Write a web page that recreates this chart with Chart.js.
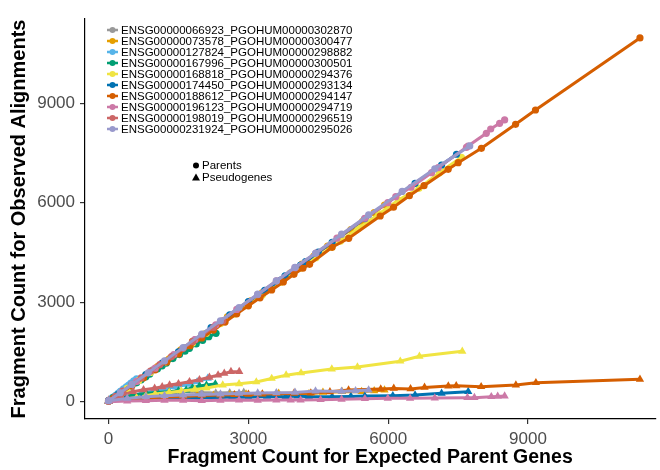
<!DOCTYPE html>
<html lang="en">

<head>
    <meta charset="utf-8">
    <script src="https://cdn.jsdelivr.net/npm/chart.js@4.4.0/dist/chart.umd.min.js"></script>
    <style>
        body {
            margin: 0;
            background: #fff;
        }
    </style>
</head>

<body>
    <canvas id="fragChart" width="660" height="470"></canvas>

    <script>
        // gene pairs shown in the legend
        const genePairs = [
            'ENSG00000066923_PGOHUM00000302870',
            'ENSG00000073578_PGOHUM00000300477',
            'ENSG00000127824_PGOHUM00000298882',
            'ENSG00000167996_PGOHUM00000300501',
            'ENSG00000168818_PGOHUM00000294376',
            'ENSG00000174450_PGOHUM00000293134',
            'ENSG00000188612_PGOHUM00000294147',
            'ENSG00000196123_PGOHUM00000294719',
            'ENSG00000198019_PGOHUM00000296519',
            'ENSG00000231924_PGOHUM00000295026'
        ];
        const pairColors = ['#999999', '#E69F00', '#56B4E9', '#009E73', '#F0E442',
            '#0072B2', '#D55E00', '#CC79A7', '#CC6666', '#9999CC'];

        const xTicks = [0, 3000, 6000, 9000];
        const yTicks = [0, 3000, 6000, 9000];

        // [expected, observed] for the parent genes
        const parents066923 = [[0, 40], [150, 170], [250, 290], [400, 420], [520, 540], [650, 660], [800, 790], [950, 960], [1100, 1080], [1250, 1240], [1400, 1380], [1520, 1510], [1650, 1630]];
        const parents073578 = [[0, 30], [200, 220], [350, 370], [600, 610], [800, 810], [1050, 1060], [1300, 1290], [1550, 1560], [1800, 1820], [2050, 2040], [2300, 2280], [2550, 2560], [2800, 2800], [3050, 3040], [3300, 3290], [3600, 3590], [3900, 3880], [4150, 4150], [4405, 4392], [4700, 4690], [4975, 4965], [5200, 5190], [5452, 5439], [5700, 5700], [5921, 5930]];
        const parents127824 = [[0, 20], [40, 60], [80, 120], [120, 150], [160, 200], [210, 260], [260, 320], [320, 390], [380, 450], [430, 500], [480, 560], [540, 630], [600, 690]];
        const parents167996 = [[0, 30], [98, 120], [200, 210], [300, 300], [400, 390], [491, 470], [600, 570], [700, 660], [800, 750], [882, 830], [1050, 990], [1150, 1080], [1238, 1158], [1380, 1300], [1523, 1420], [1640, 1520], [1736, 1610], [1880, 1740], [2020, 1850], [2150, 1960], [2306, 2062]];
        const parents168818 = [[0, 20], [200, 200], [400, 400], [650, 640], [900, 880], [1200, 1180], [1500, 1460], [1800, 1760], [2100, 2060], [2400, 2350], [2700, 2640], [3000, 2930], [3300, 3220], [3700, 3600], [4121, 4022], [4450, 4340], [4796, 4655], [4975, 4840], [5366, 5228], [5800, 5660], [6220, 6081], [6662, 6433], [7100, 6900], [7572, 7368]];
        const parents174450 = [[0, 30], [200, 210], [500, 510], [800, 820], [1150, 1160], [1500, 1500], [1850, 1860], [2200, 2230], [2600, 2620], [3000, 3020], [3350, 3360], [3694, 3669], [3786, 3790], [4121, 4121], [4228, 4221], [4500, 4510], [4797, 4805], [5500, 5520], [6577, 6584], [7146, 7136], [7466, 7459]];
        const parents188612 = [[0, 10], [100, 100], [300, 290], [500, 480], [750, 720], [1000, 960], [1250, 1200], [1500, 1440], [1750, 1690], [2000, 1920], [2250, 2160], [2500, 2400], [2750, 2650], [3000, 2890], [3250, 3130], [3500, 3370], [3750, 3610], [3978, 3841], [4170, 4022], [4313, 4142], [4796, 4655], [5153, 4926], [5829, 5598], [6114, 5861], [6455, 6211], [6769, 6512], [7288, 7006], [7502, 7205], [8000, 7639], [8734, 8363], [9161, 8794], [11403, 10965]];
        const parents196123 = [[0, 20], [300, 310], [600, 610], [1000, 1010], [1400, 1420], [1850, 1870], [2300, 2320], [2750, 2780], [3200, 3230], [3600, 3640], [4000, 4040], [4450, 4480], [4900, 4930], [5500, 5530], [5992, 6000], [6163, 6181], [6492, 6464], [6932, 6904], [7075, 7055], [7680, 7669], [7715, 7709], [8106, 8091], [8200, 8221], [8392, 8393], [8499, 8493]];
        const parents198019 = [[0, 30], [150, 160], [300, 320], [500, 520], [700, 720], [900, 920], [1100, 1120], [1350, 1360], [1600, 1610], [1800, 1810], [2000, 2010], [2250, 2240], [2450, 2440]];
        const parents231924 = [[0, 30], [250, 270], [500, 520], [850, 870], [1200, 1230], [1600, 1630], [2000, 2040], [2400, 2440], [2800, 2840], [3200, 3240], [3600, 3640], [4000, 4050], [4441, 4474], [5000, 5050], [5580, 5629], [6300, 6340], [7000, 7020], [7750, 7710]];

        // [expected, observed] for the pseudogenes
        const pseudo066923 = [[0, 30], [150, 90], [300, 120], [500, 170], [700, 200], [950, 230], [1200, 250], [1450, 290], [1740, 330], [2000, 280], [2300, 260], [2600, 270], [2900, 280]];
        const pseudo073578 = [[0, 10], [300, 80], [600, 120], [900, 140], [1200, 150], [1550, 180], [1900, 200], [2250, 190], [2600, 210], [2950, 230], [3300, 220], [3650, 250], [4000, 260], [4300, 240], [4600, 280], [5010, 302], [5430, 302], [5700, 330], [5921, 353]];
        const pseudo127824 = [[0, 20], [150, 70], [300, 120], [500, 190], [700, 250], [950, 320], [1200, 380], [1450, 450], [1700, 520], [1900, 600], [2127, 705]];
        const pseudo167996 = [[0, 20], [150, 90], [313, 151], [550, 200], [811, 253], [1050, 280], [1300, 300], [1500, 330], [1665, 353], [1800, 420], [1950, 473], [2100, 500], [2291, 534]];
        const pseudo168818 = [[0, 20], [300, 70], [600, 120], [800, 180], [1000, 230], [1300, 280], [1560, 320], [1850, 370], [2100, 410], [2450, 500], [2800, 540], [3170, 595], [3500, 700], [3810, 800], [4130, 866], [4790, 985], [5340, 1045], [6260, 1220], [6670, 1370], [7590, 1520]];
        const pseudo174450 = [[0, 10], [350, 60], [700, 90], [1100, 100], [1500, 110], [1900, 130], [2300, 120], [2650, 140], [3000, 130], [3400, 160], [3800, 150], [4050, 170], [4300, 150], [4796, 151], [5200, 160], [5500, 170], [6100, 180], [6577, 202], [7146, 253], [7718, 302]];
        const pseudo188612 = [[0, 20], [400, 80], [800, 110], [1200, 140], [1600, 160], [2000, 190], [2400, 200], [2700, 210], [3000, 220], [3300, 230], [3600, 240], [3978, 250], [4340, 260], [4750, 300], [5150, 350], [5840, 380], [6120, 400], [6480, 385], [6780, 430], [7290, 473], [7460, 480], [7995, 452], [8740, 503], [9170, 573], [11403, 675]];
        const pseudo196123 = [[0, 0], [400, 20], [800, 30], [1200, 40], [1600, 40], [2000, 30], [2400, 40], [2800, 50], [3200, 40], [3600, 50], [3908, 51], [4121, 51], [4550, 60], [5000, 70], [5500, 90], [5992, 101], [6470, 101], [7000, 110], [7700, 121], [7850, 121], [8213, 151], [8350, 160], [8499, 172]];
        const pseudo198019 = [[0, 51], [250, 180], [525, 302], [750, 360], [989, 404], [1150, 450], [1309, 503], [1500, 540], [1736, 603], [1950, 660], [2163, 735], [2350, 800], [2483, 855], [2626, 905], [2804, 905]];
        const pseudo231924 = [[0, 30], [400, 100], [800, 150], [1200, 180], [1600, 200], [2000, 220], [2400, 230], [2800, 250], [3200, 260], [3600, 270], [4000, 280], [4441, 320], [5000, 310], [5300, 330], [5580, 350]];

        const parentSeries = [parents066923, parents073578, parents127824, parents167996, parents168818,
            parents174450, parents188612, parents196123, parents198019, parents231924];
        const pseudoSeries = [pseudo066923, pseudo073578, pseudo127824, pseudo167996, pseudo168818,
            pseudo174450, pseudo188612, pseudo196123, pseudo198019, pseudo231924];

        const FONT = "'Liberation Sans', Arial, sans-serif";

        function toPoints(arr) {
            return arr.map(p => ({ x: p[0], y: p[1] }));
        }

        const datasets = [];
        genePairs.forEach((name, i) => {
            datasets.push({
                label: name + ' parents',
                data: toPoints(parentSeries[i]),
                showLine: true,
                borderColor: pairColors[i],
                backgroundColor: pairColors[i],
                borderWidth: 3,
                pointStyle: 'circle',
                pointRadius: 3.6,
                pointBorderWidth: 0,
                order: genePairs.length - i
            });
            datasets.push({
                label: name + ' pseudogenes',
                data: toPoints(pseudoSeries[i]),
                showLine: true,
                borderColor: pairColors[i],
                backgroundColor: pairColors[i],
                borderWidth: 3,
                pointStyle: 'triangle',
                pointRadius: 4.8,
                pointBorderWidth: 0,
                order: genePairs.length - i
            });
        });

        // ggplot-style legends drawn inside the panel
        const panelLegend = {
            id: 'panelLegend',
            afterDraw(chart) {
                const c = chart.ctx;
                c.save();
                c.font = '11.5px ' + FONT;
                c.textBaseline = 'middle';
                genePairs.forEach((name, i) => {
                    const y = 30 + i * 11;
                    c.strokeStyle = pairColors[i];
                    c.fillStyle = pairColors[i];
                    c.lineWidth = 2.5;
                    c.beginPath();
                    c.moveTo(107, y);
                    c.lineTo(118, y);
                    c.stroke();
                    c.beginPath();
                    c.arc(112.5, y, 3, 0, Math.PI * 2);
                    c.fill();
                    c.fillStyle = '#000';
                    c.fillText(name, 121, y + 0.5);
                });

                c.fillStyle = '#000';
                c.beginPath();
                c.arc(196, 165.5, 3, 0, Math.PI * 2);
                c.fill();
                c.beginPath();
                c.moveTo(196, 173.5);
                c.lineTo(200, 180.5);
                c.lineTo(192, 180.5);
                c.closePath();
                c.fill();
                c.fillText('Parents', 202, 166);
                c.fillText('Pseudogenes', 202, 178);
                c.restore();
            }
        };

        const ctx = document.getElementById('fragChart');
        const fragChart = new Chart(ctx, {
            type: 'scatter',
            data: { datasets: datasets },
            options: {
                responsive: false,
                animation: false,
                layout: { padding: { left: 0, right: 2, top: 19, bottom: 0 } },
                plugins: {
                    legend: { display: false },
                    tooltip: { enabled: false }
                },
                elements: { line: { tension: 0 } },
                scales: {
                    x: {
                        type: 'linear',
                        min: -506,
                        max: 11730,
                        afterBuildTicks: s => { s.ticks = xTicks.map(v => ({ value: v })); },
                        afterFit: s => { s.height = 51; },
                        border: { display: true, color: '#000', width: 1.2 },
                        grid: { display: true, drawOnChartArea: false, drawTicks: true, tickLength: 5, color: '#333', lineWidth: 1.2 },
                        ticks: { color: '#4d4d4d', padding: 5, font: { family: FONT, size: 17 }, maxRotation: 0, callback: v => String(v) },
                        title: {
                            display: true,
                            text: 'Fragment Count for Expected Parent Genes',
                            color: '#000',
                            font: { family: FONT, size: 19.5, weight: 'bold' },
                            padding: { top: 0, bottom: 1 }
                        }
                    },
                    y: {
                        type: 'linear',
                        min: -522,
                        max: 11537,
                        afterBuildTicks: s => { s.ticks = yTicks.map(v => ({ value: v })); },
                        afterFit: s => { s.width = 85; },
                        border: { display: true, color: '#000', width: 1.2 },
                        grid: { display: true, drawOnChartArea: false, drawTicks: true, tickLength: 5, color: '#333', lineWidth: 1.2 },
                        ticks: { color: '#4d4d4d', padding: 5, font: { family: FONT, size: 17 }, callback: v => String(v) },
                        title: {
                            display: true,
                            text: 'Fragment Count for Observed Alignments',
                            color: '#000',
                            font: { family: FONT, size: 20, weight: 'bold' },
                            padding: { top: 7, bottom: 0 }
                        }
                    }
                }
            },
            plugins: [panelLegend]
        });
    </script>
</body>

</html>
